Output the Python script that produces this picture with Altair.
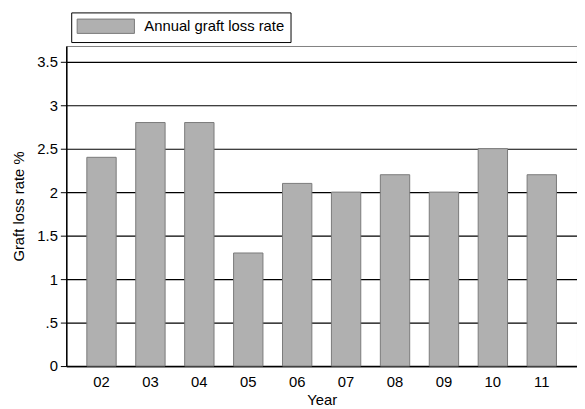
import altair as alt
import pandas as pd

years = ['02', '03', '04', '05', '06', '07', '08', '09', '10', '11']
loss_rates = [2.4, 2.8, 2.8, 1.3, 2.1, 2.0, 2.2, 2.0, 2.5, 2.2]
series_name = 'Annual graft loss rate'
y_ticks = [0, 0.5, 1, 1.5, 2, 2.5, 3, 3.5]

data = pd.DataFrame({'year': years, 'rate': loss_rates, 'series': series_name})

font = 'Liberation Sans'

# wide flat legend swatch: 8x2 unit path, scaled by sqrt(size)/2
swatch = 'M-4,-1L4,-1L4,1L-4,1Z'

bars = alt.Chart(data).mark_bar(stroke='#7a7a7a', strokeWidth=1).encode(
	x=alt.X('year:N', title='Year',
			scale=alt.Scale(paddingInner=0.4, paddingOuter=0.42),
			axis=alt.Axis(labelAngle=0, ticks=False, domainColor='black', domainWidth=1.5,
						  labelPadding=9, titlePadding=3, grid=False)),
	y=alt.Y('rate:Q', title='Graft loss rate %',
			scale=alt.Scale(domain=[0, 3.68], nice=False, zero=True),
			axis=alt.Axis(values=y_ticks, format='~g',
						  labelExpr="replace(datum.label, /^0\\./, '.')",
						  tickSize=6, tickColor='black', domainColor='black', domainWidth=1.5,
						  labelPadding=3, gridColor='black', gridWidth=1.2, gridOpacity=1,
						  titlePadding=10)),
	color=alt.Color('series:N', scale=alt.Scale(range=['#b0b0b0']),
					legend=alt.Legend(title=None, orient='none', legendX=5, legendY=-34,
									  direction='horizontal',
									  symbolType=swatch, symbolSize=210,
									  symbolOffset=21, symbolStrokeColor='#7a7a7a',
									  symbolStrokeWidth=1, symbolOpacity=1,
									  labelExpr="datum.label + '\u00a0\u00a0\u00a0\u00a0\u00a0\u00a0'",
									  labelFont=font, labelFontSize=15, labelColor='black',
									  labelOffset=31, padding=6, strokeColor='black',
									  fillColor='white'))
)

chart = bars.properties(
	width=517,
	height=324,
	autosize=alt.AutoSizeParams(type='none'),
	padding={'left': 59, 'top': 36, 'right': 0, 'bottom': 41},
	background='white'
).configure_view(
	stroke='#808080', strokeWidth=1
).configure_axis(
	labelFont=font, titleFont=font, labelFontSize=15, titleFontSize=15,
	labelColor='black', titleColor='black', titleFontWeight='normal'
)

chart.save('out.html', embed_options={'renderer': 'svg', 'actions': False})
